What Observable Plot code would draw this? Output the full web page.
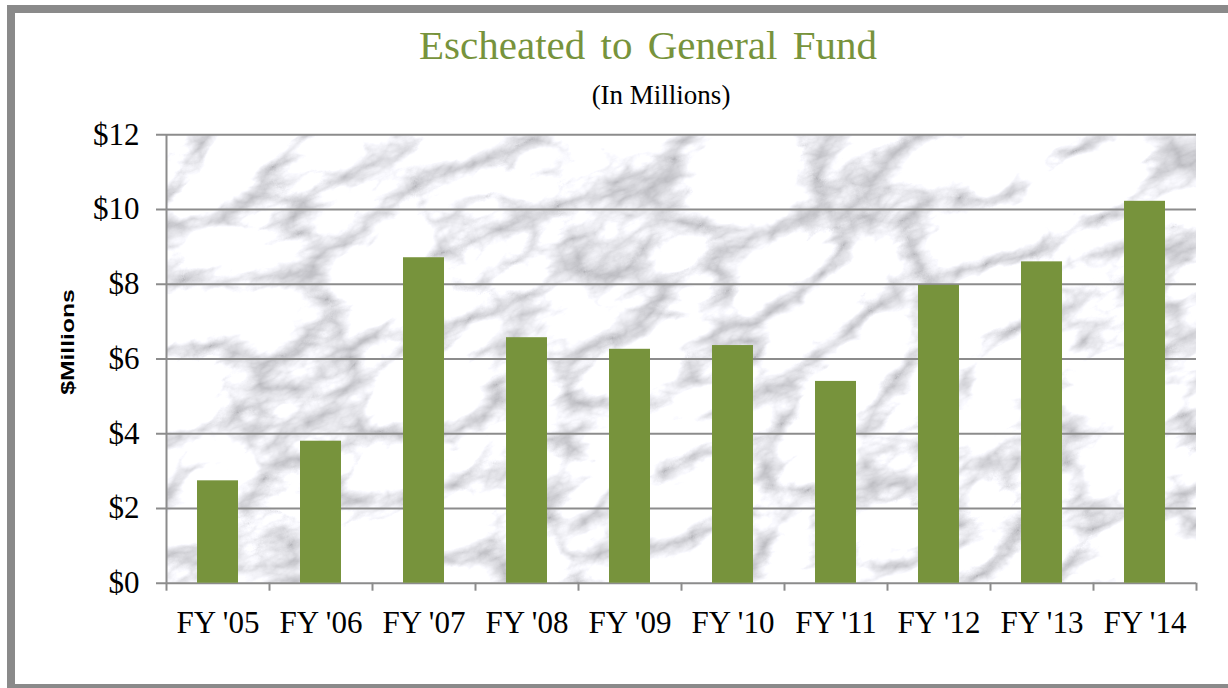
<!DOCTYPE html>
<html><head><meta charset="utf-8">
<script src="https://cdn.jsdelivr.net/npm/d3@7"></script>
<script src="https://cdn.jsdelivr.net/npm/@observablehq/plot@0.6"></script>
<style>
html,body{margin:0;padding:0;width:1228px;height:688px;overflow:hidden;background:#fff;}
#frame{position:absolute;left:7px;top:5px;width:1240px;height:687px;border:8px solid #8a8a8a;box-sizing:border-box;}
#title{position:absolute;left:648px;top:25px;transform:translateX(-50%);white-space:nowrap;font-family:"Liberation Serif",serif;font-size:41px;line-height:41px;color:#77933C;word-spacing:5px;}
#subtitle{position:absolute;left:661px;top:82px;transform:translateX(-50%);white-space:nowrap;font-family:"Liberation Serif",serif;font-size:27px;line-height:27px;color:#000;}
#ylabel{position:absolute;left:66.5px;top:341.5px;transform:translate(-50%,-50%) rotate(-90deg) scaleX(1.3);white-space:nowrap;font-family:"Liberation Sans",sans-serif;font-weight:bold;font-size:19px;line-height:19px;color:#000;}
#chart{position:absolute;left:0;top:100px;}
</style>
</head><body>
<div id="frame"></div>
<div id="title">Escheated to General Fund</div>
<div id="subtitle">(In Millions)</div>
<div id="ylabel">$Millions</div>
<div id="chart"></div>
<script>
const categories = ["FY '05","FY '06","FY '07","FY '08","FY '09","FY '10","FY '11","FY '12","FY '13","FY '14"];
const values = [2.74, 3.80, 8.71, 6.57, 6.26, 6.36, 5.40, 7.97, 8.60, 10.22];
const yTicks = [0, 2, 4, 6, 8, 10, 12];
const yTickLabels = ["$0","$2","$4","$6","$8","$10","$12"];

const data = categories.map((c, i) => ({category: c, value: values[i]}));
const W = 1228, H = 560, ML = 166, MR = 32, MT = 34.3, MB = 77.3;
const step = (W - ML - MR) / categories.length;
const grid = "#8c8c8c";

const chart = Plot.plot({
  width: W, height: H,
  marginLeft: ML, marginRight: MR, marginTop: MT, marginBottom: MB,
  style: {fontFamily: "'Liberation Serif', serif", background: "transparent", overflow: "visible"},
  x: {type: "band", domain: categories, paddingInner: 0.6, paddingOuter: 0.3, axis: null},
  y: {domain: [0, 12], axis: null},
  marks: [
    Plot.ruleY(yTicks, {y: d => d, stroke: grid, strokeWidth: 2, insetLeft: -10}),
    Plot.ruleX(categories, {x: d => d, y1: 0, y2: 12, dx: -step / 2, stroke: grid, strokeWidth: 2, insetBottom: 0, filter: (d, i) => i === 0}),
    Plot.ruleX(categories, {x: d => d, y1: 0, y2: 0, dx: -step / 2, stroke: grid, strokeWidth: 2, insetBottom: -8}),
    Plot.ruleX([categories[categories.length - 1]], {x: d => d, y1: 0, y2: 0, dx: step / 2, stroke: grid, strokeWidth: 2, insetBottom: -8}),
    Plot.barY(data, {x: "category", y: "value", fill: "#77933C"}),
    Plot.axisY({ticks: yTicks, tickFormat: (d) => yTickLabels[yTicks.indexOf(d)], tickSize: 0, tickPadding: 27, fontSize: 31, fill: "#000", label: null}),
    Plot.axisX({tickSize: 0, tickPadding: 28, fontSize: 31, fill: "#000", label: null})
  ]
});

// marble-like background texture inside the plot frame
const svg = d3.select(chart);
const xr = chart.scale("x").range, yr = chart.scale("y").range;
const x0 = Math.min(...xr), x1 = Math.max(...xr), y0 = Math.min(...yr), y1 = Math.max(...yr);
const defs = svg.insert("defs", ":first-child");
defs.append("clipPath").attr("id", "plotclip").append("rect")
  .attr("x", x0).attr("y", y0).attr("width", x1 - x0).attr("height", y1 - y0);
const f = defs.append("filter").attr("id", "marble").attr("filterUnits", "userSpaceOnUse")
  .attr("x", -600).attr("y", -600).attr("width", 2400).attr("height", 1800)
  .attr("color-interpolation-filters", "sRGB");
f.append("feTurbulence").attr("type", "turbulence").attr("baseFrequency", "0.008 0.014")
  .attr("numOctaves", 6).attr("seed", 11).attr("result", "t");
f.append("feColorMatrix").attr("in", "t").attr("type", "matrix")
  .attr("values", "0.9 0 0 0 0.71  0.9 0 0 0 0.71  0.9 0 0 0 0.73  0 0 0 0 1");
const cx = (x0 + x1) / 2, cy = (y0 + y1) / 2;
const bg = svg.insert("g", "g").attr("clip-path", "url(#plotclip)");
bg.append("rect").attr("x", x0).attr("y", y0).attr("width", x1 - x0).attr("height", y1 - y0).attr("fill", "#ececee");
bg.append("g").attr("transform", `rotate(-22 ${cx} ${cy})`)
  .append("rect").attr("x", cx - 800).attr("y", cy - 700).attr("width", 1600).attr("height", 1400)
  .attr("filter", "url(#marble)").attr("fill", "#fff");

document.getElementById("chart").appendChild(chart);
</script>
</body></html>
